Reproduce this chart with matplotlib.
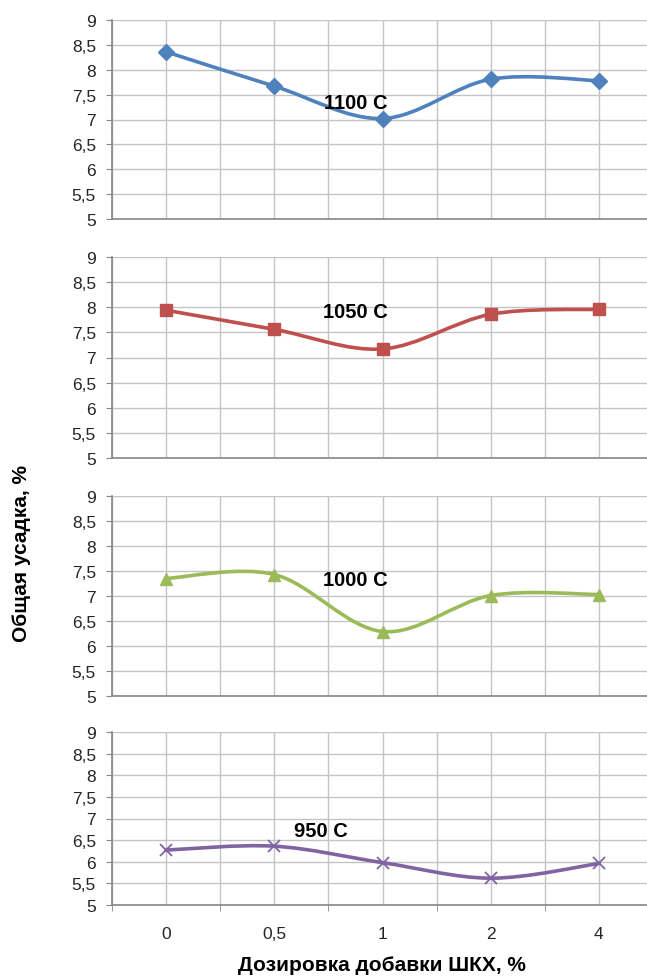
import numpy as np
import matplotlib
matplotlib.use('Agg')
import matplotlib.pyplot as plt
from matplotlib.path import Path
from matplotlib.patches import PathPatch
from matplotlib.ticker import FuncFormatter, FixedLocator

plt.rcParams['font.family'] = ['Liberation Sans', 'DejaVu Sans']

# data
doses = ['0', '0,5', '1', '2', '4']
t1100 = [8.36, 7.67, 7.02, 7.81, 7.78]
t1050 = [7.94, 7.56, 7.17, 7.86, 7.96]
t1000 = [7.35, 7.43, 6.29, 7.01, 7.03]
t950 = [6.27, 6.36, 5.98, 5.62, 5.96]

series = [
    ('1100 C', t1100, '#4F81BD', 'D', 8, (1.75, 7.35)),
    ('1050 C', t1050, '#C0504D', 's', 9, (1.75, 7.92)),
    ('1000 C', t1000, '#9BBB59', '^', 9, (1.75, 7.32)),
    ('950 C', t950, '#8064A2', 'x', 9, (1.43, 6.72)),
]

W, H = 647, 978
# panel extents in pixels (top, bottom)
panels = [(21, 220), (258, 459), (497, 697), (733, 906)]
left_px, right_px = 112, 653


def smooth_path(xs, ys):
    # Excel-like smoothed line: cubic bezier through the points
    p = np.column_stack([xs, ys]).astype(float)
    n = len(p)
    verts = [p[0]]
    codes = [Path.MOVETO]
    for i in range(n - 1):
        p0 = p[max(i - 1, 0)]
        p1 = p[i]
        p2 = p[i + 1]
        p3 = p[min(i + 2, n - 1)]
        c1 = p1 + (p2 - p0) / 6.0
        c2 = p2 - (p3 - p1) / 6.0
        verts += [c1, c2, p2]
        codes += [Path.CURVE4] * 3
    return Path(verts, codes)


fig = plt.figure(figsize=(W / 100, H / 100), dpi=100)
comma = FuncFormatter(lambda v, pos: ('%g' % v).replace('.', ','))
x = np.arange(len(doses))

for k, (name, vals, col, mk, ms, lab) in enumerate(series):
    top, bot = panels[k]
    ax = fig.add_axes([left_px / W, 1 - bot / H, (right_px - left_px) / W, (bot - top) / H])
    ax.set_xlim(-0.5, 4.5)
    ax.set_ylim(5, 9)
    ax.set_yticks(np.arange(5, 9.01, 0.5))
    ax.yaxis.set_major_formatter(comma)
    ax.set_xticks(x)
    ax.xaxis.set_minor_locator(FixedLocator(np.arange(-0.5, 4.6, 1.0)))
    ax.grid(True, which='both', color='#C4C4C4', linewidth=1.0)
    ax.set_axisbelow(True)
    for s in ['top', 'right']:
        ax.spines[s].set_visible(False)
    for s in ['left', 'bottom']:
        ax.spines[s].set_color('#868686')
        ax.spines[s].set_linewidth(1.2)
    ax.tick_params(axis='y', direction='out', length=4.5, color='#868686',
                   labelsize=12.5, labelcolor='#252525', pad=7)
    if k == len(series) - 1:
        ax.set_xticklabels(doses)
        ax.tick_params(axis='x', which='major', length=0, pad=15,
                       labelsize=12.5, labelcolor='#252525')
        ax.tick_params(axis='x', which='minor', length=4.5, color='#868686')
    else:
        ax.tick_params(axis='x', which='both', length=0, labelbottom=False)

    ax.add_patch(PathPatch(smooth_path(x, vals), facecolor='none', edgecolor=col,
                           linewidth=2.6, capstyle='round', joinstyle='round', zorder=3))
    if mk == 'x':
        ax.plot(x, vals, linestyle='none', marker=mk, markersize=ms,
                markeredgewidth=1.3, color=col, zorder=4)
    else:
        ax.plot(x, vals, linestyle='none', marker=mk, markersize=ms,
                color=col, markeredgecolor=col, zorder=4)
    ax.text(lab[0], lab[1], name, ha='center', va='center', fontsize=14.5,
            fontweight='bold', color='black', zorder=5)

fig.text(22 / W, 1 - 553 / H, 'Общая усадка, %', rotation=90, ha='center',
         va='center', fontsize=15, fontweight='bold')
fig.text(382 / W, 1 - 966 / H, 'Дозировка добавки ШКХ, %', ha='center',
         va='center', fontsize=15, fontweight='bold')

fig.savefig('out.png', dpi=100)
